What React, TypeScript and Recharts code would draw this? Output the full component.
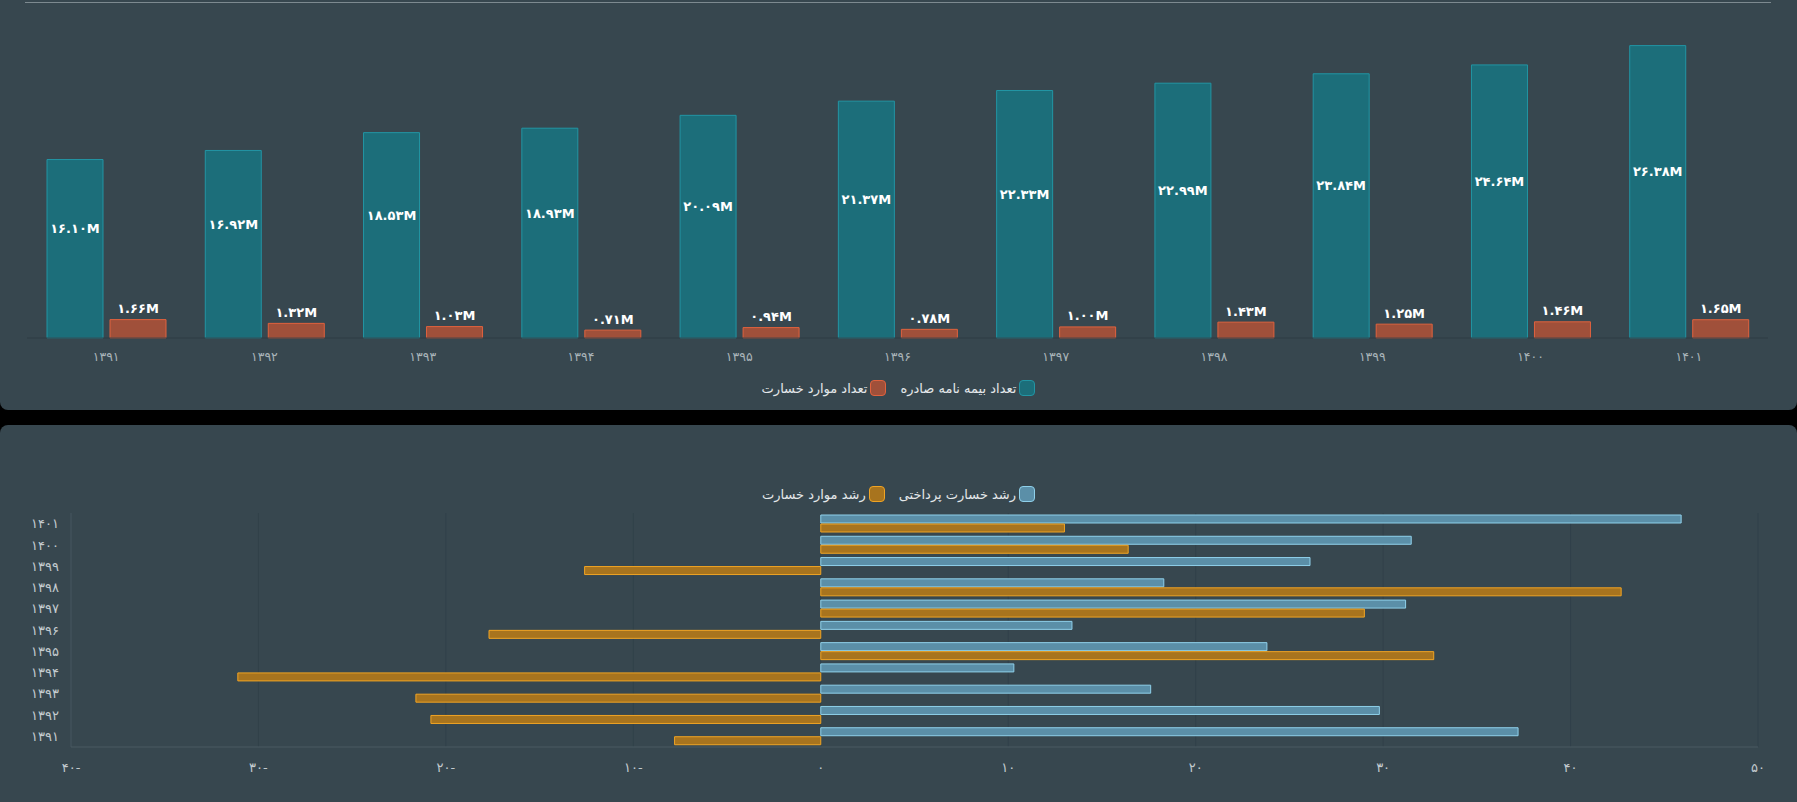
import { BarChart, Bar, XAxis, YAxis, CartesianGrid, LabelList } from "recharts";

const years = ["1391", "1392", "1393", "1394", "1395", "1396", "1397", "1398", "1399", "1400", "1401"];
// millions
const policiesIssued = [16.1, 16.92, 18.53, 18.93, 20.09, 21.37, 22.33, 22.99, 23.84, 24.64, 26.38];
const lossCases = [1.66, 1.32, 1.03, 0.71, 0.94, 0.78, 1.0, 1.43, 1.25, 1.46, 1.65];
// percent growth
const paidLossGrowth = [37.2, 29.8, 17.6, 10.3, 23.8, 13.4, 31.2, 18.3, 26.1, 31.5, 45.9];
const lossCaseGrowth = [-7.8, -20.8, -21.6, -31.1, 32.7, -17.7, 29.0, 42.7, -12.6, 16.4, 13.0];
const growthTicks = [-40, -30, -20, -10, 0, 10, 20, 30, 40, 50];

const FONT = "'DejaVu Sans', sans-serif";
const BG = "#37474f";

const toFa = (s: string | number) =>
  String(s).replace(/[0-9]/g, (d) => "۰۱۲۳۴۵۶۷۸۹"[Number(d)]);

const fmtM = (v: number) => toFa(v.toFixed(2)) + "M";
const fmtTick = (v: number) => (v < 0 ? toFa(Math.abs(v)) + "-" : toFa(v));

const countData = years.map((y, i) => ({
  year: y,
  policies: policiesIssued[i],
  losses: lossCases[i],
}));

const growthData = years.map((y, i) => ({
  year: y,
  paid: paidLossGrowth[i],
  cases: lossCaseGrowth[i],
}));

const InnerLabel = (props: any) => {
  const { x, y, width, height, value } = props;
  return (
    <text
      x={x + width / 2}
      y={y + height / 2 - 20}
      textAnchor="middle"
      dominantBaseline="central"
      fill="#ffffff"
      fontSize={13}
      fontWeight="bold"
      fontFamily={FONT}
    >
      {fmtM(value)}
    </text>
  );
};

const TopLabel = (props: any) => {
  const { x, y, width, value } = props;
  return (
    <text
      x={x + width / 2}
      y={y - 11}
      textAnchor="middle"
      dominantBaseline="central"
      fill="#ffffff"
      fontSize={13}
      fontWeight="bold"
      fontFamily={FONT}
    >
      {fmtM(value)}
    </text>
  );
};

type Item = { label: string; fill: string; stroke: string };

function RtlLegend({ items, top }: { items: Item[]; top: number }) {
  return (
    <div
      style={{
        position: "absolute",
        left: 0,
        top,
        width: 1797,
        height: 22,
        display: "flex",
        alignItems: "center",
        justifyContent: "center",
        direction: "rtl",
        gap: 14,
        fontFamily: FONT,
        fontSize: 13,
        color: "#e4e8ea",
      }}
    >
      {items.map((it) => (
        <div key={it.label} style={{ display: "flex", alignItems: "center", gap: 3 }}>
          <span
            style={{
              width: 14,
              height: 14,
              borderRadius: 4,
              background: it.fill,
              border: `1.5px solid ${it.stroke}`,
              display: "inline-block",
            }}
          />
          <span>{it.label}</span>
        </div>
      ))}
    </div>
  );
}

export default function App() {
  return (
    <div style={{ width: 1797, height: 802, background: "#000", position: "relative", overflow: "hidden" }}>
      <style>{"body{margin:0;background:#000}"}</style>

      <div
        style={{
          position: "absolute",
          left: 0,
          top: 0,
          width: 1797,
          height: 410,
          background: BG,
          borderRadius: "0 0 8px 8px",
        }}
      >
        <div
          style={{
            position: "absolute",
            left: 25,
            top: 2,
            width: 1746,
            height: 0,
            borderTop: "1px solid #7d8a90",
          }}
        />
        <BarChart
          width={1797}
          height={410}
          data={countData}
          margin={{ top: 5.5, right: 29, left: 27, bottom: 42 }}
          barSize={56}
          barGap={7}
        >
          <XAxis
            dataKey="year"
            tickFormatter={toFa}
            tickLine={false}
            axisLine={{ stroke: "#2f3d44" }}
            tickMargin={8}
            interval={0}
            tick={{ fill: "#a9b4b9", fontSize: 12.5, fontFamily: FONT }}
            height={30}
          />
          <YAxis hide domain={[0, 30]} />
          <Bar dataKey="policies" fill="#1c6e7a" stroke="#2295a4" strokeWidth={1} isAnimationActive={false}>
            <LabelList dataKey="policies" content={InnerLabel} />
          </Bar>
          <Bar dataKey="losses" fill="#a0503a" stroke="#e0623e" strokeWidth={1} isAnimationActive={false}>
            <LabelList dataKey="losses" content={TopLabel} />
          </Bar>
        </BarChart>
        <RtlLegend
          top={377}
          items={[
            { label: "تعداد بیمه نامه صادره", fill: "#1c6e7a", stroke: "#2295a4" },
            { label: "تعداد موارد خسارت", fill: "#a0503a", stroke: "#e0623e" },
          ]}
        />
      </div>

      <div
        style={{
          position: "absolute",
          left: 0,
          top: 425,
          width: 1797,
          height: 377,
          background: BG,
          borderRadius: "8px 8px 0 0",
        }}
      >
        <BarChart
          width={1797}
          height={377}
          data={growthData}
          layout="vertical"
          margin={{ top: 88, right: 39, left: 11, bottom: 25 }}
          barSize={8}
          barGap={1}
        >
          <CartesianGrid horizontal={false} stroke="#31414a" />
          <XAxis
            type="number"
            domain={[-40, 50]}
            ticks={growthTicks}
            tickFormatter={fmtTick}
            tickLine={false}
            axisLine={{ stroke: "#4a5a62" }}
            tickMargin={10}
            tick={{ fill: "#c3cbcf", fontSize: 13, fontFamily: FONT }}
            height={30}
          />
          <YAxis
            type="category"
            dataKey="year"
            reversed
            width={60}
            interval={0}
            tickFormatter={toFa}
            tickLine={false}
            axisLine={{ stroke: "#4a5a62" }}
            tickMargin={6}
            tick={{ fill: "#c3cbcf", fontSize: 13, fontFamily: FONT }}
          />
          <Bar dataKey="paid" fill="#5b8fa8" stroke="#8fd0ea" strokeWidth={1} isAnimationActive={false} />
          <Bar dataKey="cases" fill="#a8741e" stroke="#f0a424" strokeWidth={1} isAnimationActive={false} />
        </BarChart>
        <RtlLegend
          top={58}
          items={[
            { label: "رشد خسارت پرداختی", fill: "#5b8fa8", stroke: "#8fd0ea" },
            { label: "رشد موارد خسارت", fill: "#a8741e", stroke: "#f0a424" },
          ]}
        />
      </div>
    </div>
  );
}
